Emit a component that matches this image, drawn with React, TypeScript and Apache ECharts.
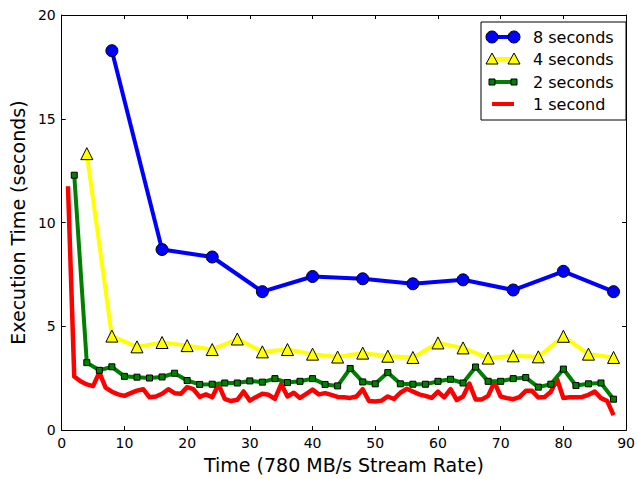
import React, { useEffect, useRef } from "react";
import * as echarts from "echarts";

const x8 = [8, 16, 24, 32, 40, 48, 56, 64, 72, 80, 88];
const y8 = [18.28, 8.7, 8.34, 6.67, 7.4, 7.29, 7.05, 7.24, 6.75, 7.65, 6.67];

const x4 = [4, 8, 12, 16, 20, 24, 28, 32, 36, 40, 44, 48, 52, 56, 60, 64, 68, 72, 76, 80, 84, 88];
const y4 = [13.32, 4.53, 4.01, 4.22, 4.07, 3.88, 4.39, 3.77, 3.88, 3.66, 3.52, 3.71, 3.56, 3.5, 4.2, 3.96, 3.47, 3.58, 3.53, 4.52, 3.66, 3.5];

const x2 = [2, 4, 6, 8, 10, 12, 14, 16, 18, 20, 22, 24, 26, 28, 30, 32, 34, 36, 38, 40, 42, 44, 46, 48, 50, 52, 54, 56, 58, 60, 62, 64, 66, 68, 70, 72, 74, 76, 78, 80, 82, 84, 86, 88];
const y2 = [12.28, 3.25, 2.88, 3.05, 2.59, 2.55, 2.51, 2.56, 2.74, 2.39, 2.2, 2.21, 2.27, 2.27, 2.37, 2.31, 2.48, 2.29, 2.35, 2.48, 2.2, 2.13, 2.97, 2.32, 2.23, 2.77, 2.23, 2.21, 2.21, 2.35, 2.45, 2.27, 3.04, 2.35, 2.35, 2.48, 2.53, 2.07, 2.21, 2.94, 2.15, 2.23, 2.27, 1.49];

const x1 = [1, 2, 3, 4, 5, 6, 7, 8, 9, 10, 11, 12, 13, 14, 15, 16, 17, 18, 19, 20, 21, 22, 23, 24, 25, 26, 27, 28, 29, 30, 31, 32, 33, 34, 35, 36, 37, 38, 39, 40, 41, 42, 43, 44, 45, 46, 47, 48, 49, 50, 51, 52, 53, 54, 55, 56, 57, 58, 59, 60, 61, 62, 63, 64, 65, 66, 67, 68, 69, 70, 71, 72, 73, 74, 75, 76, 77, 78, 79, 80, 81, 82, 83, 84, 85, 86, 87, 88];
const y1 = [11.75, 2.58, 2.35, 2.2, 2.12, 2.78, 2.05, 1.85, 1.72, 1.65, 1.78, 1.9, 1.97, 1.58, 1.62, 1.75, 1.97, 1.78, 1.75, 2.07, 1.97, 1.6, 1.72, 1.58, 2.2, 1.5, 1.4, 1.46, 1.86, 1.42, 1.6, 1.75, 1.7, 1.5, 2.22, 1.62, 1.8, 1.55, 1.75, 1.95, 1.72, 1.78, 1.7, 1.6, 1.58, 1.55, 1.62, 1.97, 1.4, 1.38, 1.42, 1.62, 1.5, 1.8, 1.99, 1.86, 1.72, 1.65, 1.55, 1.85, 1.58, 1.97, 1.45, 1.62, 2.24, 1.48, 1.48, 1.65, 2.31, 1.62, 1.54, 1.49, 1.59, 1.89, 1.89, 1.57, 1.59, 1.85, 2.45, 1.55, 1.58, 1.58, 1.6, 1.7, 1.86, 1.54, 1.4, 0.72];

const seriesNames = ["8 seconds", "4 seconds", "2 seconds", "1 second"];
const xTicks = { min: 0, max: 90, interval: 10 };
const yTicks = { min: 0, max: 20, interval: 5 };

const FONT = "DejaVu Sans";

function pairs(xs: number[], ys: number[]) {
  return xs.map((x, i) => [x, ys[i]]);
}

export default function App() {
  const ref = useRef<HTMLDivElement>(null);
  useEffect(() => {
    if (!ref.current) return;
    const chart = echarts.init(ref.current, undefined, { renderer: "svg" });
    const axisLine = { show: true, onZero: false, lineStyle: { color: "#000", width: 1 } };
    const axisTick = { show: true, inside: true, length: 4, lineStyle: { color: "#000", width: 1 } };
    const lx1 = 492, lx2 = 514, tx = 533;
    const rows = [37, 59, 82, 104];
    const tri = (cx: number, cy: number) => ({
      type: "polygon",
      shape: { points: [[cx, cy - 6], [cx + 6, cy + 5], [cx - 6, cy + 5]] },
      style: { fill: "#ffff00", stroke: "#000", lineWidth: 1 },
      z: 102,
    });
    const graphic: any[] = [
      { type: "rect", shape: { x: 481, y: 22, width: 145, height: 98 }, style: { fill: "#fff", stroke: "#000", lineWidth: 1 }, z: 100 },
      { type: "line", shape: { x1: lx1, y1: rows[0], x2: lx2, y2: rows[0] }, style: { stroke: "#0000ff", lineWidth: 4 }, z: 101 },
      { type: "circle", shape: { cx: lx1, cy: rows[0], r: 6 }, style: { fill: "#0000ff", stroke: "#000", lineWidth: 1 }, z: 102 },
      { type: "circle", shape: { cx: lx2, cy: rows[0], r: 6 }, style: { fill: "#0000ff", stroke: "#000", lineWidth: 1 }, z: 102 },
      { type: "line", shape: { x1: lx1, y1: rows[1], x2: lx2, y2: rows[1] }, style: { stroke: "#ffff00", lineWidth: 4 }, z: 101 },
      tri(lx1, rows[1]),
      tri(lx2, rows[1]),
      { type: "line", shape: { x1: lx1, y1: rows[2], x2: lx2, y2: rows[2] }, style: { stroke: "#008000", lineWidth: 4 }, z: 101 },
      { type: "rect", shape: { x: lx1 - 3, y: rows[2] - 3, width: 6, height: 6 }, style: { fill: "#008000", stroke: "#000", lineWidth: 1 }, z: 102 },
      { type: "rect", shape: { x: lx2 - 3, y: rows[2] - 3, width: 6, height: 6 }, style: { fill: "#008000", stroke: "#000", lineWidth: 1 }, z: 102 },
      { type: "line", shape: { x1: lx1, y1: rows[3], x2: lx2, y2: rows[3] }, style: { stroke: "#ff0000", lineWidth: 4 }, z: 101 },
    ];
    seriesNames.forEach((n, i) => {
      graphic.push({
        type: "text",
        x: tx,
        y: rows[i],
        style: { text: n, fill: "#000", font: `16px '${FONT}'`, textVerticalAlign: "middle", textAlign: "left" },
        z: 103,
      });
    });

    chart.setOption({
      animation: false,
      textStyle: { fontFamily: FONT },
      grid: { left: 59, right: 11, top: 15, bottom: 44, containLabel: false },
      xAxis: [
        {
          type: "value", ...xTicks, position: "bottom",
          axisLine, axisTick, splitLine: { show: false },
          axisLabel: { color: "#000", fontSize: 14, fontFamily: FONT, margin: 6 },
          name: "Time (780 MB/s Stream Rate)", nameLocation: "middle", nameGap: 22,
          nameTextStyle: { color: "#000", fontSize: 19, fontFamily: FONT },
        },
        {
          type: "value", ...xTicks, position: "top",
          axisLine, axisTick, splitLine: { show: false }, axisLabel: { show: false },
        },
      ],
      yAxis: [
        {
          type: "value", ...yTicks, position: "left",
          axisLine, axisTick, splitLine: { show: false },
          axisLabel: { color: "#000", fontSize: 14, fontFamily: FONT, margin: 6 },
          name: "Execution Time (seconds)", nameLocation: "middle", nameGap: 31,
          nameTextStyle: { color: "#000", fontSize: 19, fontFamily: FONT },
        },
        {
          type: "value", ...yTicks, position: "right",
          axisLine, axisTick, splitLine: { show: false }, axisLabel: { show: false },
        },
      ],
      series: [
        {
          name: seriesNames[3], type: "line", data: pairs(x1, y1), z: 2,
          symbol: "none", lineStyle: { color: "#ff0000", width: 4.5, join: "round" },
          itemStyle: { color: "#ff0000" },
        },
        {
          name: seriesNames[2], type: "line", data: pairs(x2, y2), z: 3,
          symbol: "rect", symbolSize: 6, showAllSymbol: true,
          lineStyle: { color: "#008000", width: 4, join: "round" },
          itemStyle: { color: "#008000", borderColor: "#000", borderWidth: 1 },
        },
        {
          name: seriesNames[1], type: "line", data: pairs(x4, y4), z: 4,
          symbol: "triangle", symbolSize: 12, showAllSymbol: true,
          lineStyle: { color: "#ffff00", width: 4, join: "round" },
          itemStyle: { color: "#ffff00", borderColor: "#000", borderWidth: 1 },
        },
        {
          name: seriesNames[0], type: "line", data: pairs(x8, y8), z: 5,
          symbol: "circle", symbolSize: 12, showAllSymbol: true,
          lineStyle: { color: "#0000ff", width: 4, join: "round" },
          itemStyle: { color: "#0000ff", borderColor: "#000", borderWidth: 1 },
        },
      ],
      graphic,
    });
    return () => chart.dispose();
  }, []);
  return <div ref={ref} style={{ width: 638, height: 479, position: "absolute", left: 0, top: 0, background: "#fff" }} />;
}
